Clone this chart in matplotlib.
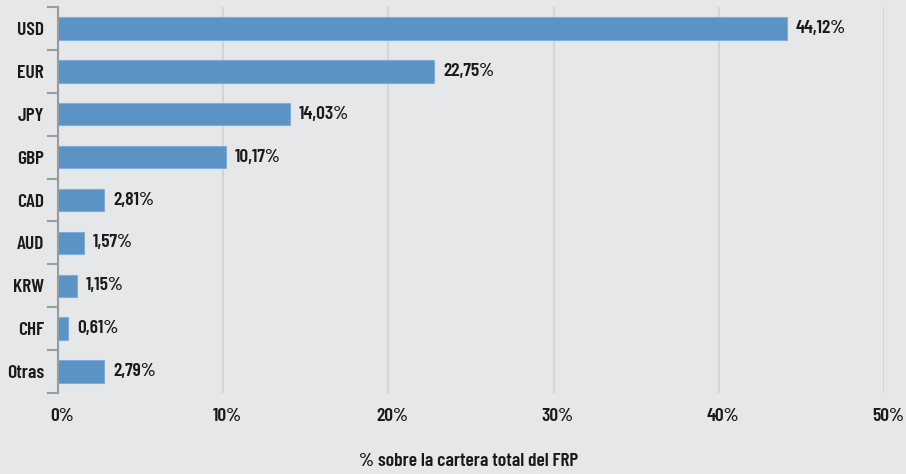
import matplotlib
matplotlib.use("Agg")
import matplotlib.pyplot as plt
from matplotlib.transforms import ScaledTranslation

currencies = ["USD", "EUR", "JPY", "GBP", "CAD", "AUD", "KRW", "CHF", "Otras"]
shares = [44.12, 22.75, 14.03, 10.17, 2.81, 1.57, 1.15, 0.61, 2.79]
xticks = [0, 10, 20, 30, 40, 50]

bg = "#e6e7e9"
bar_color = "#5b93c5"
txt = "#1a1a1a"
plt.rcParams['font.family'] = ['Barlow Condensed', 'DejaVu Sans']
plt.rcParams['font.stretch'] = 'condensed'
plt.rcParams['font.weight'] = 600

fig = plt.figure(figsize=(9.06, 4.74), dpi=100, facecolor=bg)
ax = fig.add_axes([0.064, 0.171, 0.912, 0.814], facecolor=bg)

y_pos = list(range(len(currencies)))
ax.barh(y_pos, shares, height=0.52, color=bar_color, edgecolor="#7eaedb", linewidth=0.8, zorder=3)

for y, v in zip(y_pos, shares):
    ax.annotate(f"{v:.2f}".replace(".", ",") + "%", (v, y), xytext=(6.5, 0),
                textcoords="offset points", va="center", ha="left",
                fontsize=14, color=txt, zorder=4)

ax.set_ylim(len(currencies) - 0.5, -0.5)
ax.set_xlim(0, 50)
ax.set_xticks(xticks)
ax.set_xticklabels([f"{t}%" for t in xticks], fontsize=14, color=txt)
ax.set_yticks(y_pos)
ax.set_yticklabels(currencies, fontsize=14, color=txt)
ax.tick_params(axis="y", length=0, pad=10)
ax.tick_params(axis="x", length=0, pad=11)
for lbl in ax.get_xticklabels():
    lbl.set_transform(lbl.get_transform() + ScaledTranslation(4 / 100, 0, fig.dpi_scale_trans))

# boundary ticks on the y axis
ax.set_yticks([i - 0.5 for i in range(len(currencies) + 1)], minor=True)
ax.tick_params(axis="y", which="minor", length=8, width=1.5, color="#9b9b9b")

ax.xaxis.grid(True, color="#d4d5d7", linewidth=1.5, zorder=0)
for s in ["top", "right", "bottom"]:
    ax.spines[s].set_visible(False)
ax.spines["left"].set_color("#9b9b9b")
ax.spines["left"].set_linewidth(1.5)
ax.spines["left"].set_zorder(5)

fig.text(469 / 906, 1 - 462 / 474, "% sobre la cartera total del FRP", ha="center", va="center",
         fontsize=14, color=txt)

fig.savefig("out.png", dpi=100, facecolor=bg)
